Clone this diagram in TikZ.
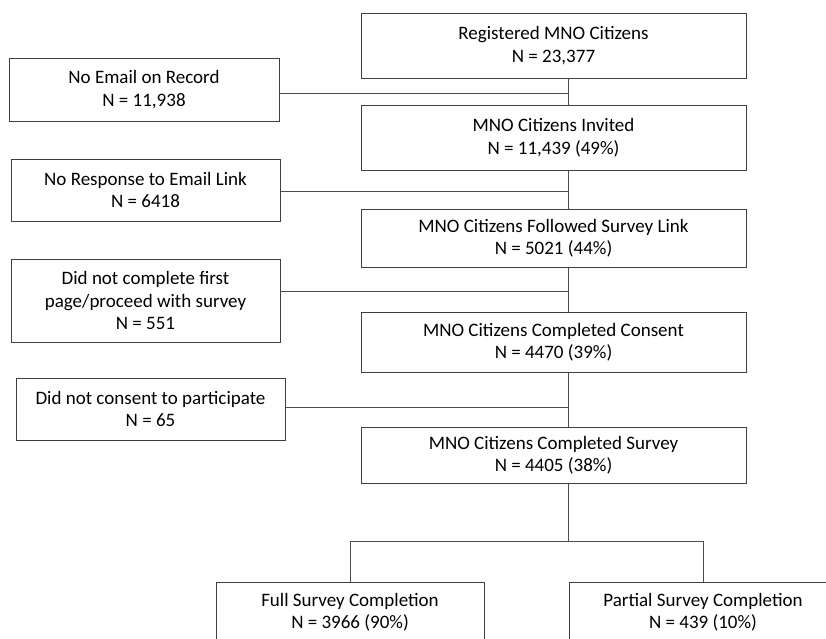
\documentclass[tikz,border=0pt]{standalone}
\usepackage{fontspec}
\setmainfont{Carlito}
\usetikzlibrary{calc}

\begin{document}
\begin{tikzpicture}[x=1pt, y=-1pt,
  box/.style={draw=black!75, line width=1pt, align=center, inner sep=0pt,
    font=\fontsize{19}{22.5}\selectfont, text=black},
  mainbox/.style={box, minimum width=385pt},
  sidebox/.style={box, minimum width=269pt},
  link/.style={draw=black!70, line width=1pt}]
\clip (0,0) rectangle (826,638);
\useasboundingbox (0,0) rectangle (826,638);
% main column
\node[mainbox, minimum height=65pt] (reg) at (553.5,45.5) {Registered MNO Citizens\\N = 23,377};
\node[mainbox, minimum height=65pt] (inv) at (553.5,137.5) {MNO Citizens Invited\\N = 11,439 (49\%)};
\node[mainbox, minimum height=58pt] (fol) at (553.5,238) {MNO Citizens Followed Survey Link\\N = 5021 (44\%)};
\node[mainbox, minimum height=60pt] (con) at (553.5,342) {MNO Citizens Completed Consent\\N = 4470 (39\%)};
\node[mainbox, minimum height=56pt] (srv) at (553.5,455) {MNO Citizens Completed Survey\\N = 4405 (38\%)};
% exclusions
\node[sidebox, minimum width=270pt, minimum height=63pt] (noemail) at (144,89.5) {No Email on Record\\N = 11,938};
\node[sidebox, minimum height=62pt] (noresp) at (145.5,190) {No Response to Email Link\\N = 6418};
\node[sidebox, minimum height=83pt] (nocomp) at (145.5,300.5) {Did not complete first\\page/proceed with survey\\N = 551};
\node[sidebox, minimum height=62pt] (nocons) at (150.5,409) {Did not consent to participate\\N = 65};
% split
\node[box, minimum width=268pt, minimum height=60pt] (full) at (350,612) {Full Survey Completion\\N = 3966 (90\%)};
\node[box, minimum width=268pt, minimum height=60pt] (part) at (703,612) {Partial Survey Completion\\N = 439 (10\%)};
% junctions on the spine
\coordinate (spine) at (568,0);
\coordinate (j1) at (568,93);
\coordinate (j2) at (568,191);
\coordinate (j3) at (568,291);
\coordinate (j4) at (568,407);
\coordinate (split) at (568,541);
\draw[link] (reg.south -| spine) -- (inv.north -| spine);
\draw[link] (inv.south -| spine) -- (fol.north -| spine);
\draw[link] (fol.south -| spine) -- (con.north -| spine);
\draw[link] (con.south -| spine) -- (srv.north -| spine);
\draw[link] (j1 -| noemail.east) -- (j1);
\draw[link] (j2 -| noresp.east) -- (j2);
\draw[link] (j3 -| nocomp.east) -- (j3);
\draw[link] (j4 -| nocons.east) -- (j4);
\draw[link] (srv.south -| spine) -- (split);
\draw[link] (full.north) -- (split -| full.north) -- (split -| part.north) -- (part.north);
\end{tikzpicture}
\end{document}
